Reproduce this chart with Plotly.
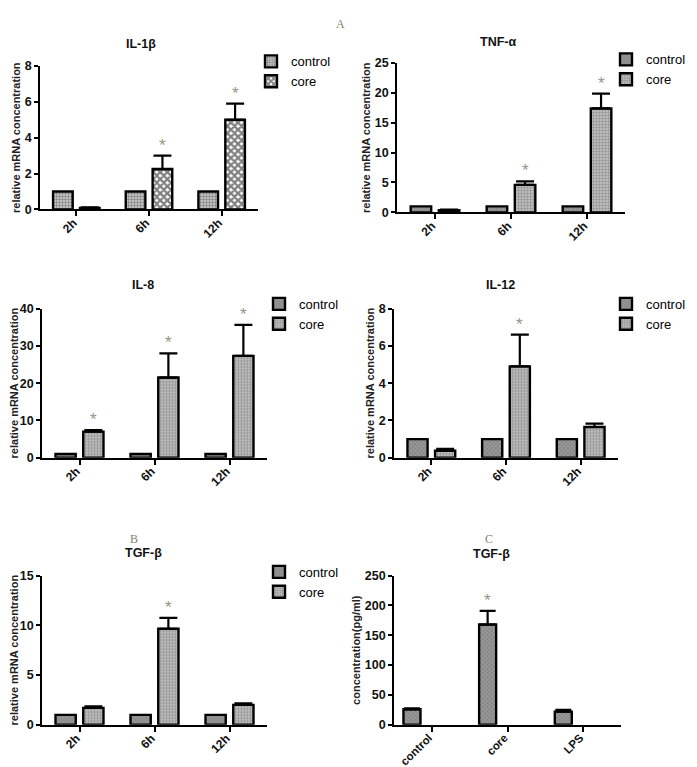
import plotly.graph_objects as go

W, H = 697, 767

# ---------------- data ----------------
hours = ["2h", "6h", "12h"]
groups_c = ["control", "core", "LPS"]

il1b_control = [1, 1, 1]
il1b_core = [0.08, 2.25, 5.0]
il1b_core_err = [0.03, 0.75, 0.9]
il1b_sig = [False, True, True]

tnfa_control = [1, 1, 1]
tnfa_core = [0.35, 4.6, 17.4]
tnfa_core_err = [0.12, 0.6, 2.5]
tnfa_sig = [False, True, True]

il8_control = [1, 1, 1]
il8_core = [7.0, 21.5, 27.3]
il8_core_err = [0.4, 6.5, 8.3]
il8_sig = [True, True, True]

il12_control = [1, 1, 1]
il12_core = [0.38, 4.9, 1.65]
il12_core_err = [0.1, 1.7, 0.18]
il12_sig = [False, True, False]

tgfb_control = [1, 1, 1]
tgfb_core = [1.7, 9.65, 2.0]
tgfb_core_err = [0.15, 1.1, 0.15]
tgfb_sig = [False, True, False]

tgfb_protein = [26, 168, 22]
tgfb_protein_err = [1.5, 23, 3]
tgfb_protein_sig = [False, True, False]

# ---------------- styling ----------------
FONT = "Liberation Sans"
STAR = "#8d9a86"

pat_ctrl_a = dict(shape=".", fgcolor="#2a2a2a", bgcolor="#d6d6d6", size=3, solidity=0.5)
pat_core_a = dict(shape="x", fgcolor="#000000", bgcolor="#ffffff", size=5, solidity=0.7)
pat_ctrl = dict(shape="x", fgcolor="#5a5a5a", bgcolor="#989898", size=3, solidity=0.35)
pat_core = dict(shape=".", fgcolor="#5e5e5e", bgcolor="#c8c8c8", size=3, solidity=0.5)

panels = [
    dict(title="IL-1β", box=(32, 250, 52, 198), ymax=8, dtick=2, ctrl=il1b_control, core=il1b_core,
         err=il1b_core_err, sig=il1b_sig, pc=pat_ctrl_a, pk=pat_core_a, tpos=(133, 30), leg=(243, 32),
         ytitle="relative mRNA concentration"),
    dict(title="TNF-α", box=(389, 617, 49, 201), ymax=25, dtick=5, ctrl=tnfa_control, core=tnfa_core,
         err=tnfa_core_err, sig=tnfa_sig, pc=pat_ctrl, pk=pat_core, tpos=(490, 27), leg=(598, 30),
         ytitle="relative mRNA concentration"),
    dict(title="IL-8", box=(34, 259, 299, 451), ymax=40, dtick=10, ctrl=il8_control, core=il8_core,
         err=il8_core_err, sig=il8_sig, pc=pat_ctrl, pk=pat_core, tpos=(135, 275), leg=(251, 279),
         ytitle="relative mRNA concentration"),
    dict(title="IL-12", box=(386, 610, 299, 451), ymax=8, dtick=2, ctrl=il12_control, core=il12_core,
         err=il12_core_err, sig=il12_sig, pc=pat_ctrl, pk=pat_core, tpos=(492, 275), leg=(598, 279),
         ytitle="relative mRNA concentration"),
    dict(title="TGF-β", box=(34, 259, 571, 723), ymax=15, dtick=5, ctrl=tgfb_control, core=tgfb_core,
         err=tgfb_core_err, sig=tgfb_sig, pc=pat_ctrl, pk=pat_core, tpos=(135, 548), leg=(251, 552),
         ytitle="relative mRNA concentration"),
]

fig = go.Figure()
annotations = []
layout = dict(width=W, height=H, margin=dict(l=0, r=0, t=0, b=0), autosize=False,
              paper_bgcolor="white", plot_bgcolor="white", barmode="overlay",
              font=dict(family=FONT, color="black"))

xpos = [0, 1, 2]


def axis_pair(i, box, ymax, dtick, ticktext, ytitle, xfs=12):
    x0, x1, yt, yb = box
    xs = "" if i == 1 else str(i)
    layout["xaxis" + xs] = dict(
        domain=[x0 / W, x1 / W], anchor="y" + xs, range=[-0.5, 2.5], tickvals=xpos, ticktext=ticktext,
        tickangle=-45, showline=True, linecolor="black", linewidth=1.6, ticks="outside", ticklen=5,
        tickwidth=1.6, tickcolor="black", showgrid=False, zeroline=False,
        ticklabelstandoff=-5, ticklabelshift=-3,
        tickfont=dict(family=FONT, size=xfs, color="#111", weight="bold"), fixedrange=True)
    layout["yaxis" + xs] = dict(
        domain=[1 - yb / H, 1 - yt / H], anchor="x" + xs, range=[0, ymax], dtick=dtick, tick0=0,
        showline=True, linecolor="black", linewidth=1.6, ticks="outside", ticklen=4, tickwidth=1.6,
        tickcolor="black", showgrid=False, zeroline=False,
        tickfont=dict(family=FONT, size=12.5, color="#111", weight="bold"),
        title=dict(text=ytitle, font=dict(family=FONT, size=11, color="#222", weight="bold"), standoff=2),
        fixedrange=True)
    return "x" + xs, "y" + xs


def star_ann(xr, yr, x, y):
    annotations.append(dict(xref=xr, yref=yr, x=x, y=y, text="*", showarrow=False, yanchor="bottom",
                            yshift=-1, font=dict(family=FONT, size=17, color=STAR)))


def title_ann(text, pos):
    annotations.append(dict(xref="paper", yref="paper", x=pos[0] / W, y=1 - pos[1] / H, text=text,
                            showarrow=False, xanchor="center", yanchor="middle",
                            font=dict(family=FONT, size=12.5, color="#111", weight="bold")))


W_BAR = 0.27
for i, p in enumerate(panels, start=1):
    xr, yr = axis_pair(i, p["box"], p["ymax"], p["dtick"], hours, p["ytitle"])
    lg = "legend" if i == 1 else "legend" + str(i)
    fig.add_trace(go.Bar(x=xpos, y=p["ctrl"], name="control", xaxis=xr, yaxis=yr, offset=-0.32, width=W_BAR,
                         marker=dict(color=p["pc"]["bgcolor"], line=dict(color="black", width=2.4), pattern=p["pc"]),
                         legend=lg))
    fig.add_trace(go.Bar(x=xpos, y=p["core"], name="core", xaxis=xr, yaxis=yr, offset=0.05, width=W_BAR,
                         marker=dict(color=p["pk"]["bgcolor"], line=dict(color="black", width=2.4), pattern=p["pk"]),
                         error_y=dict(type="data", array=p["err"], arrayminus=[0] * 3, symmetric=False,
                                      color="black", thickness=2.2, width=9),
                         legend=lg))
    for k in range(3):
        if p["sig"][k]:
            star_ann(xr, yr, xpos[k] + 0.05 + W_BAR / 2, p["core"][k] + p["err"][k])
    title_ann(p["title"], p["tpos"])
    lx, ly = p["leg"]
    layout[lg] = dict(x=lx / W, y=1 - ly / H, xanchor="left", yanchor="top", bgcolor="rgba(0,0,0,0)",
                      font=dict(family=FONT, size=13, color="black"), tracegroupgap=0,
                      itemclick=False, itemdoubleclick=False)

# panel C
xr, yr = axis_pair(6, (386, 613, 571, 723), 250, 50, groups_c, "concentration(pg/ml)", xfs=11.5)
fig.add_trace(go.Bar(x=xpos, y=tgfb_protein, name="TGF-β", xaxis=xr, yaxis=yr, offset=-0.375, width=0.225,
                     marker=dict(color=pat_ctrl["bgcolor"], line=dict(color="black", width=2.4), pattern=pat_ctrl),
                     error_y=dict(type="data", array=tgfb_protein_err, arrayminus=[0] * 3, symmetric=False,
                                  color="black", thickness=2.2, width=8),
                     showlegend=False))
for k in range(3):
    if tgfb_protein_sig[k]:
        star_ann(xr, yr, xpos[k] - 0.375 + 0.225 / 2, tgfb_protein[k] + tgfb_protein_err[k])
title_ann("TGF-β", (483, 549))

# panel letters
for txt, (px, py) in [("A", (332, 9)), ("B", (126, 534)), ("C", (481, 534))]:
    annotations.append(dict(xref="paper", yref="paper", x=px / W, y=1 - py / H, text=txt, showarrow=False,
                            xanchor="center", yanchor="middle",
                            font=dict(family="Liberation Serif", size=12, color="#8a8070")))

layout["annotations"] = annotations
layout["showlegend"] = True
fig.update_layout(**layout)
fig.write_html("out.html")
